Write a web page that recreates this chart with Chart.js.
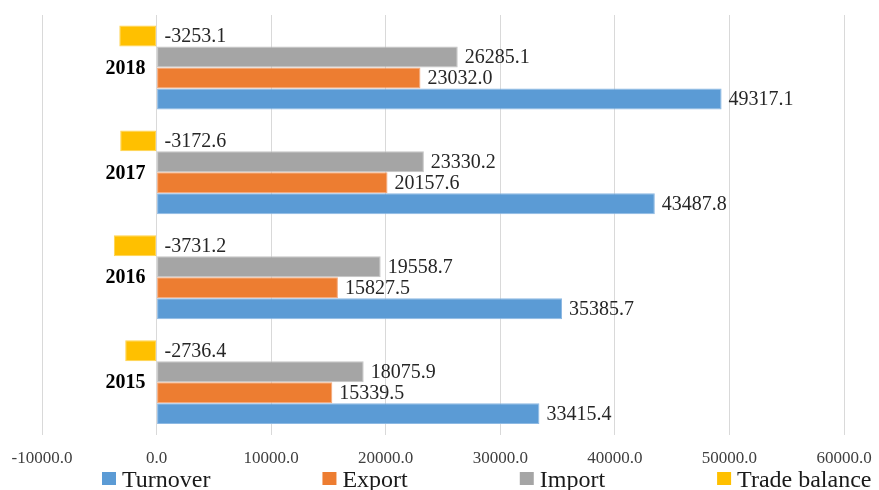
<!DOCTYPE html>
<html>
<head>
<meta charset="utf-8">
<script src="https://cdn.jsdelivr.net/npm/chart.js@4/dist/chart.umd.min.js"></script>
<style>
  html, body { margin: 0; padding: 0; background: #ffffff; }
  #wrap { width: 879px; height: 490px; position: relative; }
</style>
</head>
<body>
<div id="wrap"><canvas id="c" width="879" height="490"></canvas></div>
<script>
// ---- data (categories top to bottom) ----
const years = ['2018', '2017', '2016', '2015'];
const turnover = [49317.1, 43487.8, 35385.7, 33415.4];
const exportVals = [23032.0, 20157.6, 15827.5, 15339.5];
const importVals = [26285.1, 23330.2, 19558.7, 18075.9];
const tradeBalance = [-3253.1, -3172.6, -3731.2, -2736.4];
const xTicks = [-10000, 0, 10000, 20000, 30000, 40000, 50000, 60000];
const legendOrder = ['Turnover', 'Export', 'Import', 'Trade balance'];

const COLORS = {
  'Turnover': '#5B9BD5',
  'Export': '#ED7D31',
  'Import': '#A5A5A5',
  'Trade balance': '#FFC000'
};
const BORDERS = {
  'Turnover': '#8DB9E3',
  'Export': '#F3A679',
  'Import': '#C4C4C4',
  'Trade balance': '#FFD34D'
};
const SERIF = '"Liberation Serif", "Times New Roman", serif';

// datasets listed top-to-bottom within each category band
const seriesTopDown = [
  ['Trade balance', tradeBalance],
  ['Import', importVals],
  ['Export', exportVals],
  ['Turnover', turnover]
];

const datasets = seriesTopDown.map(([name, vals]) => ({
  label: name,
  data: vals,
  backgroundColor: COLORS[name],
  borderColor: BORDERS[name],
  borderWidth: 1,
  borderSkipped: false,
  categoryPercentage: 0.8,
  barPercentage: 1.0
}));

const labelPlugin = {
  id: 'labels',
  afterDatasetsDraw(chart) {
    const ctx = chart.ctx;
    const xs = chart.scales.x;
    const ys = chart.scales.y;
    const zero = xs.getPixelForValue(0);
    ctx.save();
    // value labels
    ctx.font = '20px ' + SERIF;
    ctx.fillStyle = '#262626';
    ctx.textAlign = 'left';
    ctx.textBaseline = 'middle';
    chart.data.datasets.forEach((ds, di) => {
      const meta = chart.getDatasetMeta(di);
      meta.data.forEach((bar, i) => {
        const v = ds.data[i];
        const x = v >= 0 ? bar.x + 7 : zero + 8;
        ctx.fillText(v.toFixed(1), x, bar.y + 1);
      });
    });
    // category labels next to zero line
    ctx.font = 'bold 20px ' + SERIF;
    ctx.fillStyle = '#000000';
    ctx.textAlign = 'right';
    chart.data.labels.forEach((lab, i) => {
      ctx.fillText(lab, zero - 11, ys.getPixelForValue(i) + 1);
    });
    ctx.restore();
  },
  afterDraw(chart) {
    const ctx = chart.ctx;
    ctx.save();
    ctx.font = '24px ' + SERIF;
    ctx.textBaseline = 'alphabetic';
    ctx.textAlign = 'left';
    let x = 102;
    const baseY = 487;
    legendOrder.forEach((name) => {
      ctx.fillStyle = COLORS[name];
      ctx.fillRect(x, 472, 14, 13);
      ctx.fillStyle = '#1a1a1a';
      ctx.fillText(name, x + 20, baseY);
      x += 20 + ctx.measureText(name).width + 112;
    });
    ctx.restore();
  }
};

new Chart(document.getElementById('c'), {
  type: 'bar',
  data: { labels: years, datasets: datasets },
  options: {
    indexAxis: 'y',
    responsive: false,
    animation: false,
    layout: { padding: { left: 42, right: 35, top: 15, bottom: 21 } },
    plugins: {
      legend: { display: false },
      tooltip: { enabled: false }
    },
    scales: {
      x: {
        type: 'linear',
        min: -10000,
        max: 60000,
        afterBuildTicks(scale) { scale.ticks = xTicks.map(v => ({ value: v })); },
        grid: { color: '#D9D9D9', lineWidth: 1, drawTicks: true, tickLength: 14, tickColor: 'rgba(0,0,0,0)' },
        border: { display: false },
        ticks: {
          padding: 0,
          color: '#404040',
          font: { family: SERIF, size: 17 },
          callback: (v) => Number(v).toFixed(1)
        }
      },
      y: {
        type: 'category',
        display: false,
        grid: { display: false }
      }
    }
  },
  plugins: [labelPlugin]
});
</script>
</body>
</html>
